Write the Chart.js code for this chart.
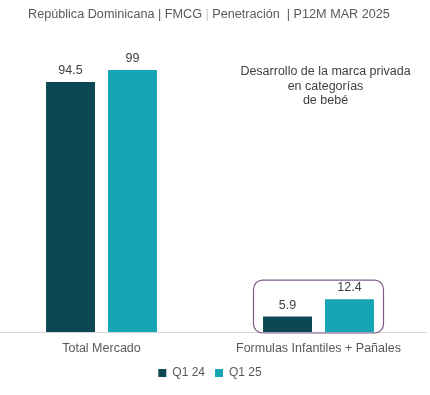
<!DOCTYPE html>
<html><head><meta charset="utf-8">
<script src="https://cdn.jsdelivr.net/npm/chart.js@4"></script>
<style>
html,body{margin:0;padding:0;background:#fff;width:430px;height:395px;overflow:hidden;font-family:"Liberation Sans",Arial,sans-serif;}
#title{position:absolute;left:0;top:7px;width:430px;text-align:left;padding-left:28px;box-sizing:border-box;font-size:12.65px;color:#595959;white-space:pre;}
#title .sep{color:#c8c8c8;}
#wrap{position:absolute;left:-7px;top:0;width:434px;height:395px;}
</style></head>
<body>
<div id="wrap"><canvas id="c"></canvas></div>
<div id="title">República Dominicana | FMCG <span class="sep">|</span> Penetración  | P12M MAR 2025</div>
<script>
const categories = ["Total Mercado", "Formulas Infantiles + Pañales"];
const seriesNames = ["Q1 24", "Q1 25"];
const q124 = [94.5, 5.9];
const q125 = [99, 12.4];
const annotationLines = ["Desarrollo de la marca privada", "en categorías", "de bebé"];

const FONT = '"Liberation Sans", Arial, sans-serif';

const labelPlugin = {
  id: 'labels',
  afterDatasetsDraw(chart) {
    const ctx = chart.ctx;
    ctx.save();
    ctx.font = '12.5px ' + FONT;
    ctx.fillStyle = '#404040';
    ctx.textAlign = 'center';
    ctx.textBaseline = 'bottom';
    chart.data.datasets.forEach((ds, i) => {
      chart.getDatasetMeta(i).data.forEach((bar, j) => {
        ctx.fillText(String(ds.data[j]), bar.x, bar.y - 5);
      });
    });
    const xs = chart.scales.x, ys = chart.scales.y;
    const cx = xs.getPixelForValue(1) + 7;
    ctx.textBaseline = 'middle';
    annotationLines.forEach((t, k) => {
      ctx.fillText(t, cx, 72 + k * 14.3);
    });
    const bx = xs.getPixelForValue(1);
    const left = bx - 65, right = bx + 65;
    const top = ys.getPixelForValue(19.6), bottom = ys.getPixelForValue(0) + 1;
    const r = 9;
    ctx.strokeStyle = '#7e5c8c';
    ctx.lineWidth = 1.2;
    ctx.beginPath();
    ctx.moveTo(left + r, top);
    ctx.lineTo(right - r, top);
    ctx.arcTo(right, top, right, top + r, r);
    ctx.lineTo(right, bottom - r);
    ctx.arcTo(right, bottom, right - r, bottom, r);
    ctx.lineTo(left + r, bottom);
    ctx.arcTo(left, bottom, left, bottom - r, r);
    ctx.lineTo(left, top + r);
    ctx.arcTo(left, top, left + r, top, r);
    ctx.closePath();
    ctx.stroke();
    ctx.restore();
  }
};

new Chart(document.getElementById('c'), {
  type: 'bar',
  data: {
    labels: categories,
    datasets: [
      {label: seriesNames[0], data: q124, backgroundColor: '#0c4853', categoryPercentage: 0.571, barPercentage: 0.79},
      {label: seriesNames[1], data: q125, backgroundColor: '#16a5b5', categoryPercentage: 0.571, barPercentage: 0.79}
    ]
  },
  options: {
    responsive: true,
    maintainAspectRatio: false,
    animation: false,
    layout: {padding: {top: 41, bottom: 6, left: 0, right: 0}},
    plugins: {
      legend: {
        position: 'bottom',
        labels: {boxWidth: 8, boxHeight: 8, color: '#595959', font: {size: 12, family: FONT}, padding: 10}
      },
      tooltip: {enabled: false},
      title: {display: false}
    },
    scales: {
      x: {
        grid: {display: false},
        border: {display: true, color: '#d9d9d9', width: 1},
        ticks: {color: '#595959', font: {size: 12.5, family: FONT}, padding: 1}
      },
      y: {display: false, min: 0, max: 110}
    }
  },
  plugins: [labelPlugin]
});
</script>
</body></html>
